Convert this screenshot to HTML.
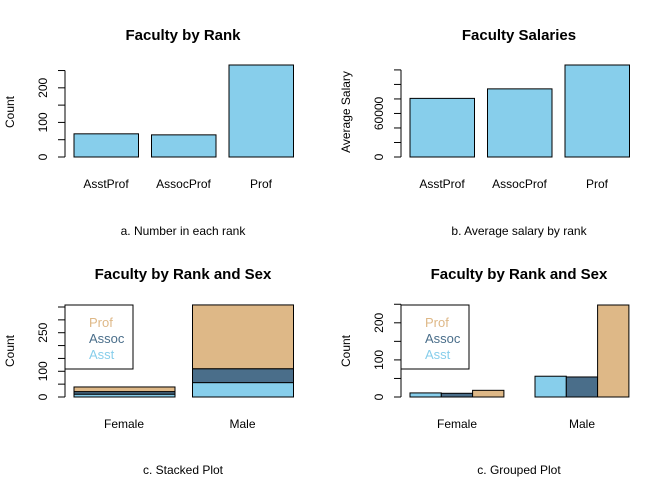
<!DOCTYPE html>
<html><head><meta charset="utf-8"><style>
body{margin:0;background:#fff}
svg{display:block;font-family:"Liberation Sans",Arial,sans-serif}
</style></head><body>
<svg id="c" width="672" height="480" viewBox="0 0 672 480" xmlns="http://www.w3.org/2000/svg"></svg>
<script>
const ranks = ["AsstProf","AssocProf","Prof"];
const rankCounts = [67,64,266];
const rankSalaries = [80776,93876,126772];
const sexes = ["Female","Male"];
const asstBySex = [11,56];
const assocBySex = [10,54];
const profBySex = [18,248];
const legendLabels = ["Prof","Assoc","Asst"];
const countTicks = [0,50,100,150,200,250];
const countTickLabels = ["0","","100","","200",""];
const salaryTicks = [0,20000,40000,60000,80000,100000,120000];
const salaryTickLabels = ["0","","","60000","","",""];
const stackTicks = [0,50,100,150,200,250,300,350];
const stackTickLabels = ["0","","100","","","250","",""];
const groupTicks = [0,50,100,150,200,250];
const groupTickLabels = ["0","","100","","200",""];

const svg=document.getElementById('c');
const NS="http://www.w3.org/2000/svg";
const SKY="#87CEEB",ASSOC="#4A6E8A",PROF="#DEB887";
function mk(tag,attrs,parent){const e=document.createElementNS(NS,tag);for(const k in attrs)e.setAttribute(k,attrs[k]);(parent||svg).appendChild(e);return e;}
function txt(s,attrs){const e=mk('text',attrs);e.textContent=s;return e;}

function axis(ox,y0,scale,ticks,labels,name){
  const top=y0-ticks[ticks.length-1]*scale;
  const l=mk('line',{x1:ox,x2:ox,y1:y0,y2:top,stroke:'#000'});
  
  
  ticks.forEach((t,i)=>{
    const y=y0-t*scale;
    mk('line',{x1:ox-7,x2:ox,y1:y,y2:y,stroke:'#000'});
    if(labels[i]){
      const e=txt(labels[i],{x:ox-18,y:y,'font-size':12,'text-anchor':'middle',transform:`rotate(-90 ${ox-18} ${y})`});
      
      
    }
  });
}
function titles(cx,t,sub,yl,ty,sy,ylx,yly,name){
  let e=txt(t,{x:cx,y:ty,'font-size':15,'font-weight':'bold','text-anchor':'middle'});
  
  e=txt(sub,{x:cx,y:sy,'font-size':12,'text-anchor':'middle'});
  
  e=txt(yl,{x:ylx,y:yly,'font-size':12,'text-anchor':'middle',transform:`rotate(-90 ${ylx} ${yly})`});
  
}
function bar(x,y0,w,v,scale,fill,name){
  const r=mk('rect',{x:x,y:y0-v*scale,width:w,height:v*scale,fill:fill,stroke:'#000','stroke-width':1});
  
  
}
function legend(x,y,name){
  const r=mk('rect',{x:x,y:y,width:68,height:64,fill:'#fff',stroke:'#000'});
  
  const cols=[PROF,ASSOC,SKY];
  legendLabels.forEach((s,i)=>{
    const e=txt(s,{x:x+24,y:y+22+i*16,'font-size':13,fill:cols[i]});
    
    
  });
}

// Panel a
{const y0=157,sc=92/266;
titles(183,"Faculty by Rank","a. Number in each rank","Count",40,235,14,112,'rank');
axis(65,y0,sc,countTicks,countTickLabels,'rank');
ranks.forEach((r,i)=>{const x=74+i*77.5;bar(x,y0,64.5,rankCounts[i],sc,SKY,'bar-count-'+r.toLowerCase());
 const e=txt(r,{x:x+32,y:188,'font-size':12,'text-anchor':'middle'});});}
// Panel b
{const y0=157,sc=92/126772;
titles(519,"Faculty Salaries","b. Average salary by rank","Average Salary",40,235,350,112,'salary');
axis(401,y0,sc,salaryTicks,salaryTickLabels,'salary');
ranks.forEach((r,i)=>{const x=410+i*77.5;bar(x,y0,64.5,rankSalaries[i],sc,SKY,'bar-salary-'+r.toLowerCase());
 const e=txt(r,{x:x+32,y:188,'font-size':12,'text-anchor':'middle'});});}
// Panel c stacked
{const y0=397,sc=90/350;
titles(183,"Faculty by Rank and Sex","c. Stacked Plot","Count",279,474,14,351,'stacked');
axis(65,y0,sc,stackTicks,stackTickLabels,'stacked');
sexes.forEach((s,i)=>{const x=74+i*118.5;
 bar(x,y0,101,asstBySex[i],sc,SKY,'bar-stacked-asst-'+s.toLowerCase());
 bar(x,y0-asstBySex[i]*sc,101,assocBySex[i],sc,ASSOC,'bar-stacked-assoc-'+s.toLowerCase());
 bar(x,y0-(asstBySex[i]+assocBySex[i])*sc,101,profBySex[i],sc,PROF,'bar-stacked-prof-'+s.toLowerCase());
 const e=txt(s,{x:x+50,y:428,'font-size':12,'text-anchor':'middle'});});
legend(65,305,'stacked');}
// Panel d grouped
{const y0=397,sc=92/248;
titles(519,"Faculty by Rank and Sex","c. Grouped Plot","Count",279,474,350,351,'grouped');
axis(401,y0,sc,groupTicks,groupTickLabels,'grouped');
sexes.forEach((s,i)=>{const x=410+i*125;const w=31.3;
 bar(x,y0,w,asstBySex[i],sc,SKY,'bar-grouped-asst-'+s.toLowerCase());
 bar(x+w,y0,w,assocBySex[i],sc,ASSOC,'bar-grouped-assoc-'+s.toLowerCase());
 bar(x+2*w,y0,w,profBySex[i],sc,PROF,'bar-grouped-prof-'+s.toLowerCase());
 const e=txt(s,{x:x+47,y:428,'font-size':12,'text-anchor':'middle'});});
legend(401,305,'grouped');}
</script>
</body></html>
